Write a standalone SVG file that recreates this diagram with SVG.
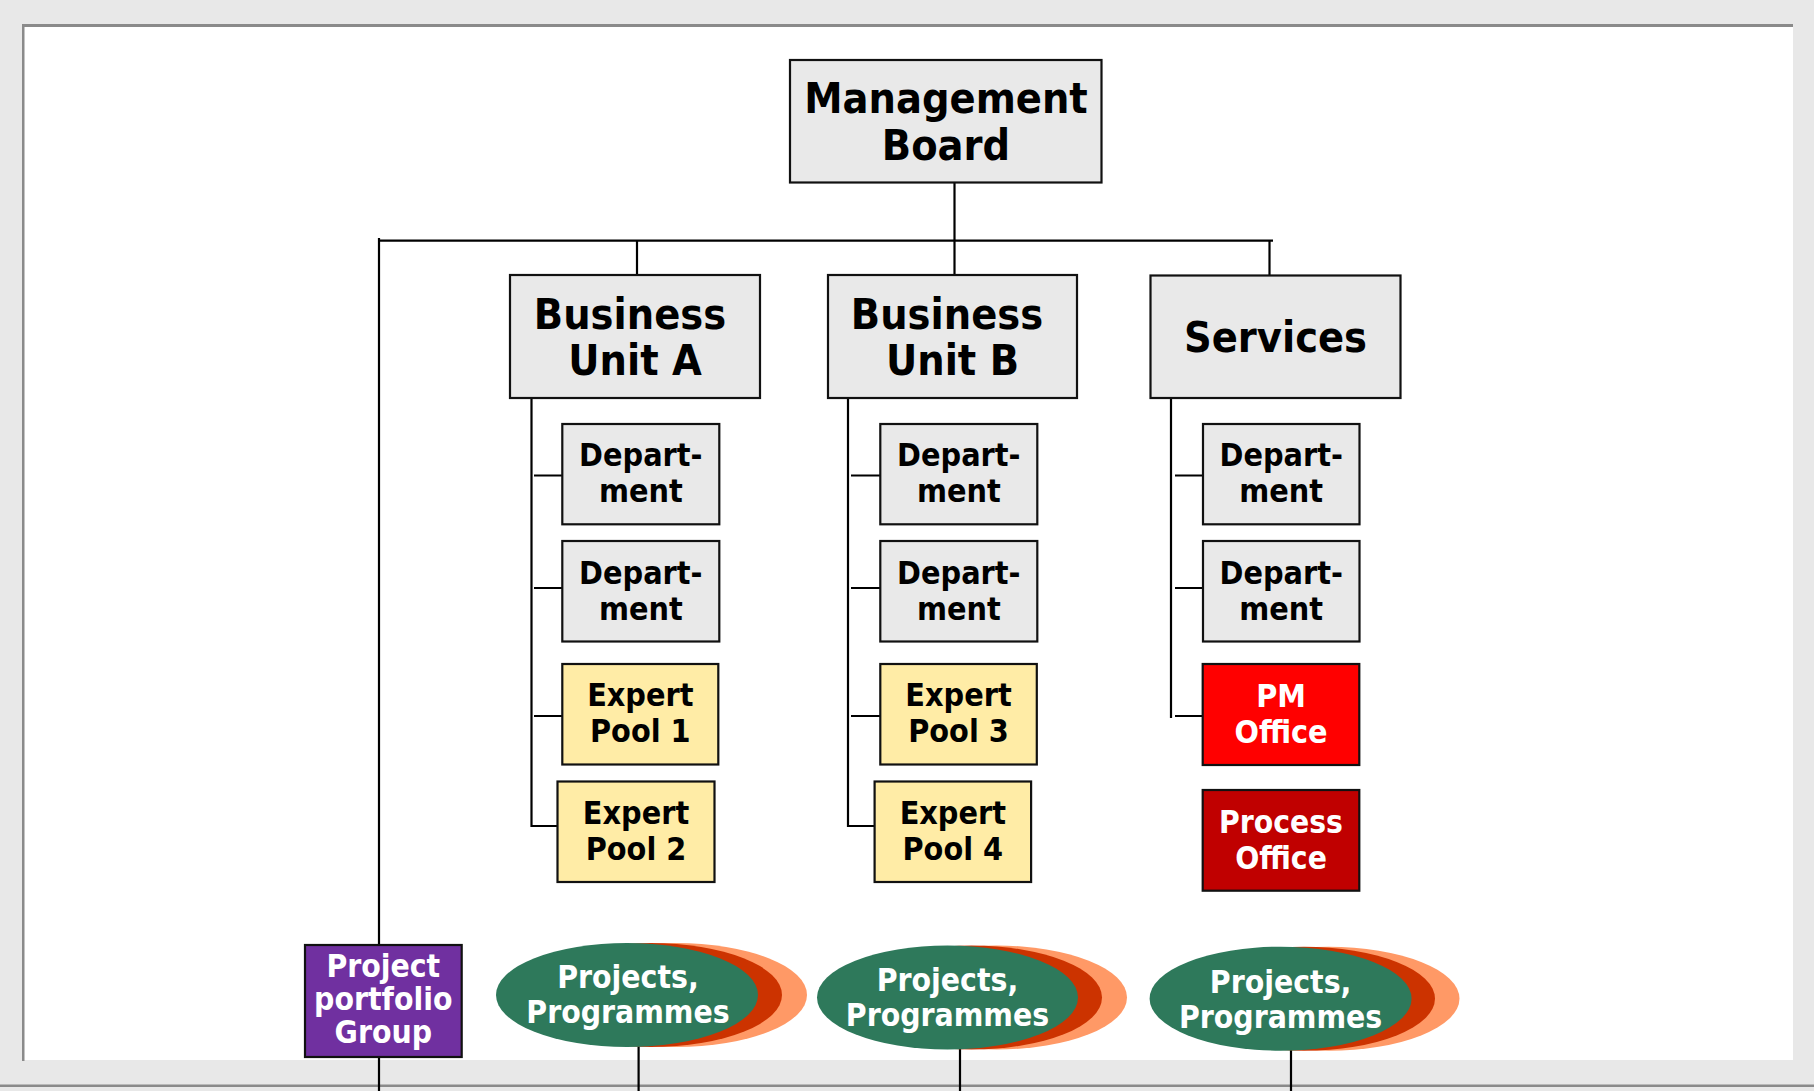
<svg xmlns="http://www.w3.org/2000/svg" width="1814" height="1091" viewBox="0 0 1814 1091">
<style>
.t{font-family:'DejaVu Sans Condensed','Liberation Sans',Arial,sans-serif;font-weight:bold;text-anchor:middle}
.big{font-size:42.8px;fill:#000}
.sm{font-size:32px;fill:#000}
.wh{font-size:31.6px;fill:#fff}
.box{stroke:#111;stroke-width:2.2}
.g{fill:#e9e9e9}
.y{fill:#ffeca6}
.ln{stroke:#000;stroke-width:2.2;fill:none}
</style>
<rect x="0" y="0" width="1814" height="1091" fill="#e8e8e8"/>
<rect x="22" y="24" width="1771" height="1036" fill="#fff"/>
<rect x="22" y="24" width="1771" height="3" fill="#8a8a8a"/>
<rect x="22" y="24" width="2.5" height="1037" fill="#8a8a8a"/>
<rect x="0" y="1084.5" width="1814" height="2.5" fill="#8a8a8a"/>

<g id="connectors" class="ln">
<path d="M379 238V1091"/>
<path d="M380 240.7H1273"/>
<path d="M954.5 182V275"/>
<path d="M637 240.7V275"/>
<path d="M1269.5 240.7V275"/>
<path d="M531.5 398V826H558"/>
<path d="M534 475.5H562M534 588H562M534 716H562"/>
<path d="M848 398V826H875"/>
<path d="M851 475.5H880M851 588H880M851 716H880"/>
<path d="M1171 398V718"/>
<path d="M1175 475.5H1203M1175 588H1203M1175 716H1203"/>
<path d="M638.6 1046V1091M960 1049V1091M1291 1050V1091"/>
</g>

<g id="management-board">
<rect class="box g" x="790" y="60" width="311.5" height="122.5"/>
<text class="t big" x="946" y="113.3">Management</text>
<text class="t big" x="946" y="160">Board</text>
</g>

<g id="business-unit-a">
<rect class="box g" x="510" y="275" width="250" height="123"/>
<text class="t big" x="630" y="329">Business</text>
<text class="t big" x="635" y="375">Unit A</text>
</g>
<g id="business-unit-b">
<rect class="box g" x="828" y="275" width="249" height="123"/>
<text class="t big" x="947" y="329">Business</text>
<text class="t big" x="952.5" y="375">Unit B</text>
</g>
<g id="services">
<rect class="box g" x="1150.5" y="275.5" width="250" height="122.5"/>
<text class="t big" x="1275.5" y="351.7">Services</text>
</g>

<g id="dept-a1">
<rect class="box g" x="562.3" y="424" width="157" height="100.3"/>
<text class="t sm" x="640.8" y="465.5">Depart-</text>
<text class="t sm" x="640.8" y="502.3">ment</text>
</g>
<g id="dept-a2">
<rect class="box g" x="562.3" y="541" width="157" height="100.5"/>
<text class="t sm" x="640.8" y="583.5">Depart-</text>
<text class="t sm" x="640.8" y="620">ment</text>
</g>
<g id="expert-pool-1">
<rect class="box y" x="562.3" y="664" width="156" height="100.5"/>
<text class="t sm" x="640.3" y="706">Expert</text>
<text class="t sm" x="640.3" y="742">Pool 1</text>
</g>
<g id="expert-pool-2">
<rect class="box y" x="557.5" y="781.5" width="157" height="100.5"/>
<text class="t sm" x="636" y="823.5">Expert</text>
<text class="t sm" x="636" y="860">Pool 2</text>
</g>

<g id="dept-b1">
<rect class="box g" x="880.3" y="424" width="157" height="100.3"/>
<text class="t sm" x="958.8" y="465.5">Depart-</text>
<text class="t sm" x="958.8" y="502.3">ment</text>
</g>
<g id="dept-b2">
<rect class="box g" x="880.3" y="541" width="157" height="100.5"/>
<text class="t sm" x="958.8" y="583.5">Depart-</text>
<text class="t sm" x="958.8" y="620">ment</text>
</g>
<g id="expert-pool-3">
<rect class="box y" x="880.3" y="664" width="156.5" height="100.5"/>
<text class="t sm" x="958.5" y="706">Expert</text>
<text class="t sm" x="958.5" y="742">Pool 3</text>
</g>
<g id="expert-pool-4">
<rect class="box y" x="874.6" y="781.5" width="156.5" height="100.5"/>
<text class="t sm" x="952.8" y="823.5">Expert</text>
<text class="t sm" x="952.8" y="860">Pool 4</text>
</g>

<g id="dept-s1">
<rect class="box g" x="1203" y="424" width="156.5" height="100.3"/>
<text class="t sm" x="1281.2" y="465.5">Depart-</text>
<text class="t sm" x="1281.2" y="502.3">ment</text>
</g>
<g id="dept-s2">
<rect class="box g" x="1203" y="541" width="156.5" height="100.5"/>
<text class="t sm" x="1281.2" y="583.5">Depart-</text>
<text class="t sm" x="1281.2" y="620">ment</text>
</g>
<g id="pm-office">
<rect class="box" fill="#ff0000" x="1202.7" y="664" width="156.6" height="101"/>
<text class="t wh" style="font-size:32px" x="1281" y="706.5">PM</text>
<text class="t wh" style="font-size:32px" x="1281" y="742.5">Office</text>
</g>
<g id="process-office">
<rect class="box" fill="#c00000" x="1202.7" y="790" width="156.6" height="100.7"/>
<text class="t wh" style="font-size:31.5px" x="1281" y="833">Process</text>
<text class="t wh" style="font-size:31.5px" x="1281" y="869.3">Office</text>
</g>

<g id="project-portfolio-group">
<rect class="box" fill="#7030a0" x="305" y="945" width="156.7" height="112"/>
<text class="t wh" x="383.3" y="976.7">Project</text>
<text class="t wh" x="383.3" y="1010">portfolio</text>
<text class="t wh" x="383.3" y="1043.3">Group</text>
</g>

<g id="projects-1">
<ellipse cx="676" cy="995" rx="131" ry="52" fill="#ff9966"/>
<ellipse cx="651" cy="995" rx="131" ry="52" fill="#cc3300"/>
<ellipse cx="627" cy="995" rx="131" ry="52" fill="#2e795b"/>
<text class="t wh" x="628" y="988">Projects,</text>
<text class="t wh" x="628" y="1023">Programmes</text>
</g>
<g id="projects-2">
<ellipse cx="996.5" cy="997.5" rx="130.5" ry="52" fill="#ff9966"/>
<ellipse cx="971.5" cy="997.5" rx="130.5" ry="52" fill="#cc3300"/>
<ellipse cx="947.5" cy="997.5" rx="130.5" ry="52" fill="#2e795b"/>
<text class="t wh" x="947.5" y="991">Projects,</text>
<text class="t wh" x="947.5" y="1026">Programmes</text>
</g>
<g id="projects-3">
<ellipse cx="1328.5" cy="998.7" rx="131" ry="52" fill="#ff9966"/>
<ellipse cx="1304" cy="998.7" rx="131" ry="52" fill="#cc3300"/>
<ellipse cx="1280.6" cy="998.7" rx="131" ry="52" fill="#2e795b"/>
<text class="t wh" x="1280.6" y="992.5">Projects,</text>
<text class="t wh" x="1280.6" y="1027.5">Programmes</text>
</g>
</svg>
